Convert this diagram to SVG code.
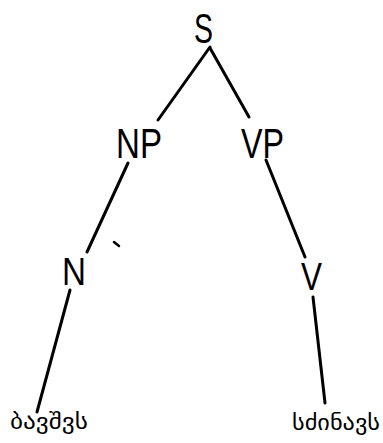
<svg xmlns="http://www.w3.org/2000/svg" width="383" height="443" viewBox="0 0 383 443">
<style>
.lbl{font-family:"Liberation Sans","DejaVu Sans",sans-serif;fill:#000;}
.geo{font-family:"DejaVu Sans","Noto Sans",sans-serif;fill:#000;}
.edge{stroke:#000;stroke-width:3;stroke-linecap:round;fill:none;}
</style>
<rect width="383" height="443" fill="#fff"/>
<g id="connectors">
<line class="edge" x1="210" y1="47" x2="158" y2="120"/>
<line class="edge" x1="210" y1="48" x2="249" y2="117"/>
<line class="edge" x1="128" y1="163" x2="87" y2="252"/>
<line class="edge" x1="266" y1="160" x2="305" y2="257"/>
<line class="edge" x1="70" y1="290" x2="37" y2="412"/>
<line class="edge" x1="313" y1="297" x2="325" y2="403"/>
</g>
<path d="M114 242 L119 246" stroke="#000" stroke-width="2.5" stroke-linecap="round"/>
<g id="S"><text class="lbl" x="194" y="43" font-size="42" textLength="19" lengthAdjust="spacingAndGlyphs">S</text></g>
<g id="NP"><text class="lbl" x="116" y="158" font-size="42" textLength="46" lengthAdjust="spacingAndGlyphs">NP</text></g>
<g id="VP"><text class="lbl" x="241" y="158" font-size="42" textLength="43" lengthAdjust="spacingAndGlyphs">VP</text></g>
<g id="N"><text class="lbl" x="62" y="285" font-size="38" textLength="24" lengthAdjust="spacingAndGlyphs">N</text></g>
<g id="V"><text class="lbl" x="301" y="290" font-size="38" textLength="21" lengthAdjust="spacingAndGlyphs">V</text></g>
<g id="leaf1"><text class="geo" x="10" y="429" font-size="21" textLength="78" lengthAdjust="spacingAndGlyphs">ბავშვს</text></g>
<g id="leaf2"><text class="geo" x="292" y="430" font-size="21" textLength="88" lengthAdjust="spacingAndGlyphs">სძინავს</text></g>
</svg>
